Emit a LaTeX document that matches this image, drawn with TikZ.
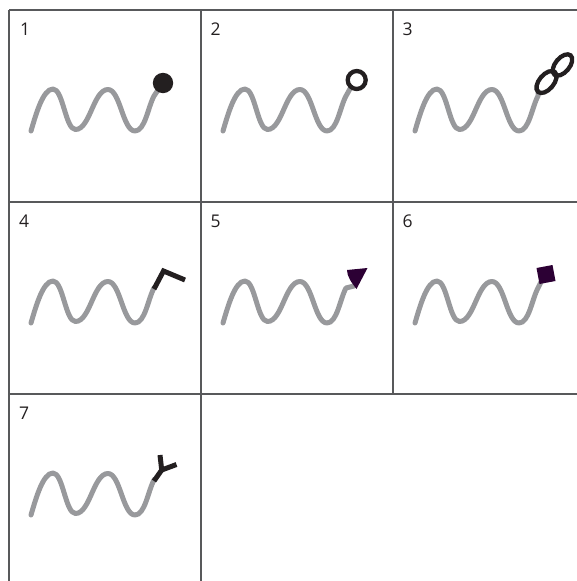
\documentclass[tikz,border=0pt]{standalone}
\usepackage{fontspec}
\setmainfont{Open Sans}
\definecolor{gridcol}{RGB}{88,89,91}
\definecolor{wavecol}{RGB}{152,153,156}
\definecolor{tipblack}{RGB}{35,31,32}
\definecolor{tippurple}{RGB}{44,0,52}
\definecolor{labelcol}{RGB}{35,31,32}
\newcommand{\mywave}[1]{\draw[wave] (22,121) .. controls (27,104) and (34,79) .. (44,79) .. controls (54.1,79) and (56.4,119.5) .. (66.5,119.5) .. controls (81.1,119.5) and (84.4,79.5) .. (99,79.5) .. controls (111.2,79.5) and (113.8,121) .. (126,121) .. controls (136,121) and (139,97) .. (145,86) -- #1;}
\begin{document}
\begin{tikzpicture}[x=1pt,y=-1pt,
  gridline/.style={draw=gridcol,line width=1.1pt},
  wave/.style={draw=wavecol,line width=5pt,line cap=round,line join=round},
  tipline/.style={draw=tipblack,line width=5pt},
  ringline/.style={draw=tipblack,line width=4.3pt},
  lbl/.style={anchor=base west,inner sep=0pt,font=\fontsize{17.5}{17.5}\selectfont,text=labelcol}]
\useasboundingbox (0,0) rectangle (577,581);
% grid
\draw[gridline] (9,10) -- (577,10);
\draw[gridline] (9,202) -- (577,202);
\draw[gridline] (9,394) -- (577,394);
\draw[gridline] (9,10) -- (9,581);
\draw[gridline] (201,10) -- (201,581);
\draw[gridline] (393,10) -- (393,394);
% cell 1
\begin{scope}[shift={(9,10)}]
  \node[lbl] (l1) at (11,25.5) {1};
  \mywave{(151,77)}
  \fill[tipblack] (154,73) circle [radius=10.2];
\end{scope}
% cell 2
\begin{scope}[shift={(201,10)}]
  \node[lbl] (l2) at (9.5,25.5) {2};
  \mywave{(150,77)}
  \draw[ringline] (155.7,70) circle [radius=9];
\end{scope}
% cell 3
\begin{scope}[shift={(393,10)}]
  \node[lbl] (l3) at (9.5,25.5) {3};
  \mywave{(145,81)}
  \draw[ringline,rotate around={50:(153.5,72)}] (153.5,72) ellipse [x radius=13, y radius=7.3];
  \draw[ringline,rotate around={50:(169.5,55)}] (169.5,55) ellipse [x radius=12.6, y radius=7.1];
\end{scope}
% cell 4
\begin{scope}[shift={(9,202)}]
  \node[lbl] (l4) at (10,25.5) {4};
  \mywave{(146,85)}
  \draw[tipline] (145,87) -- (154.5,69) -- (176,78);
\end{scope}
% cell 5
\begin{scope}[shift={(201,202)}]
  \node[lbl] (l5) at (9.5,25.5) {5};
  \mywave{(153,84)}
  \fill[tippurple] (155.5,87) .. controls (150,80) and (146,74) .. (146,68) -- (166.5,66) -- cycle;
\end{scope}
% cell 6
\begin{scope}[shift={(393,202)}]
  \node[lbl] (l6) at (9.5,25.5) {6};
  \mywave{(149,78)}
  \fill[tippurple] (143.5,66) -- (159.5,63) -- (162.5,79) -- (146.5,82) -- cycle;
\end{scope}
% cell 7
\begin{scope}[shift={(9,394)}]
  \node[lbl] (l7) at (10,25.5) {7};
  \mywave{(146,85)}
  \draw[tipline] (145,87) -- (152.7,76) -- (151,61);
  \draw[tipline] (152.7,76) -- (167.5,70.5);
\end{scope}
\end{tikzpicture}
\end{document}
